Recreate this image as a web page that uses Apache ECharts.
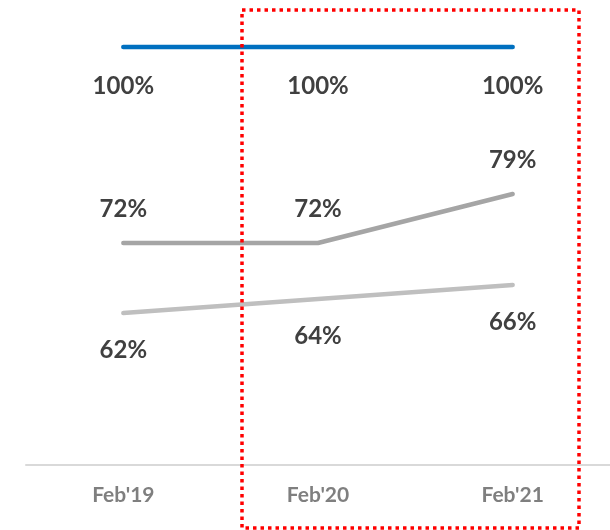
<!DOCTYPE html>
<html>
<head>
<meta charset="utf-8">
<script src="https://cdn.jsdelivr.net/npm/echarts@6/dist/echarts.min.js"></script>
<style>
  html, body { margin: 0; padding: 0; background: #ffffff; }
  #chart { width: 610px; height: 530px; }
</style>
</head>
<body>
<div id="chart"></div>
<script>
// Periods on the horizontal axis
const periods = ["Feb'19", "Feb'20", "Feb'21"];

// Series values, in percent
const totalShare = [100, 100, 100];
const upperShare = [72, 72, 79];
const lowerShare = [62, 64, 66];

const chart = echarts.init(document.getElementById('chart'), null, { renderer: 'canvas' });

const FONT = 'Lato, "Open Sans", sans-serif';

function lineSeries(values, color, labelPos, labelDist) {
  return {
    type: 'line',
    data: values,
    symbol: 'circle',
    symbolSize: 0,
    showSymbol: true,
    lineStyle: { color: color, width: 4.5, cap: 'round', join: 'round' },
    itemStyle: { color: color },
    label: {
      show: true,
      position: labelPos,
      distance: labelDist,
      fontFamily: FONT,
      fontWeight: 'bold',
      fontSize: 24,
      color: '#404040',
      formatter: p => p.value + '%'
    },
    emphasis: { disabled: true },
    silent: true,
    z: 3
  };
}

chart.setOption({
  animation: false,
  backgroundColor: '#ffffff',
  grid: { left: 26, right: -2, top: 12, bottom: 65 },
  xAxis: {
    type: 'category',
    data: periods,
    boundaryGap: true,
    axisLine: { show: true, lineStyle: { color: '#d9d9d9', width: 2 } },
    axisTick: { show: false },
    axisLabel: {
      margin: 20,
      fontFamily: FONT,
      fontWeight: 'bold',
      fontSize: 21,
      color: '#7f7f7f'
    },
    splitLine: { show: false }
  },
  yAxis: {
    type: 'value',
    min: 40.29,
    max: 105,
    show: false,
    splitLine: { show: false }
  },
  series: [
    lineSeries(totalShare, '#0070c0', 'bottom', 27),
    lineSeries(upperShare, '#a5a5a5', 'top', 22),
    lineSeries(lowerShare, '#bfbfbf', 'bottom', 25)
  ],
  graphic: [
    {
      // dotted highlight frame around the last two periods
      type: 'rect',
      shape: { x: 242, y: 10, width: 337, height: 518 },
      style: {
        fill: 'none',
        stroke: '#ff0000',
        lineWidth: 3.5,
        lineDash: [3.5, 4]
      },
      silent: true,
      z: 10
    }
  ]
});
</script>
</body>
</html>
